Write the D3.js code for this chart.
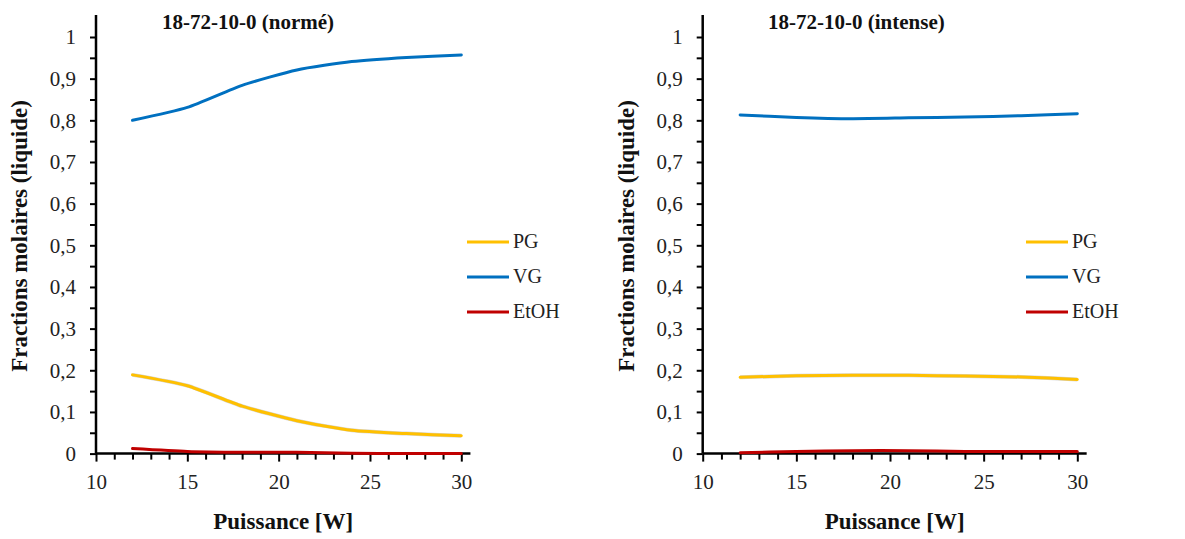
<!DOCTYPE html>
<html><head><meta charset="utf-8">
<script src="https://cdn.jsdelivr.net/npm/d3@7"></script>
<style>body{margin:0;background:#fff}</style>
</head><body><svg id="c" width="1185" height="539"></svg>
<script>
const xValues = [12, 15, 18, 21, 24, 27, 30];
const seriesNames = ["PG", "VG", "EtOH"];
const seriesColors = ["#FFC000", "#0070C0", "#C00000"];
const titles = ["18-72-10-0 (normé)", "18-72-10-0 (intense)"];
const normePG = [0.189, 0.163, 0.114, 0.079, 0.056, 0.048, 0.043];
const normeVG = [0.800, 0.831, 0.884, 0.921, 0.941, 0.951, 0.957];
const normeEtOH = [0.012, 0.005, 0.003, 0.003, 0.001, 0.0, 0.0];
const intensePG = [0.183, 0.187, 0.188, 0.188, 0.186, 0.184, 0.178];
const intenseVG = [0.813, 0.807, 0.804, 0.806, 0.808, 0.811, 0.816];
const intenseEtOH = [0.002, 0.005, 0.007, 0.007, 0.005, 0.005, 0.005];
const yTicks = [0, 0.1, 0.2, 0.3, 0.4, 0.5, 0.6, 0.7, 0.8, 0.9, 1];
const xTicks = [10, 15, 20, 25, 30];
const yTitle = "Fractions molaires (liquide)";
const xTitle = "Puissance [W]";

const FONT = "'Liberation Serif', 'Times New Roman', serif";
const panels = [
  {x0: 96, x1: 461.3, series: [normePG, normeVG, normeEtOH], titleX: 162, legX: 467},
  {x0: 702.7, x1: 1077.3, series: [intensePG, intenseVG, intenseEtOH], titleX: 768, legX: 1026}
];
const svg = d3.select("#c");
const yTop = 37, yZero = 453.6;

panels.forEach((p, i) => {
  const x = d3.scaleLinear().domain([10, 30]).range([p.x0, p.x1]);
  const y = d3.scaleLinear().domain([0, 1]).range([yZero, yTop]);
  const g = svg.append("g");
  const yAx = g.append("g").attr("transform", `translate(${p.x0},0)`)
    .call(d3.axisLeft(y).tickValues(yTicks).tickSize(6).tickPadding(14)
      .tickFormat(d => d3.format(".1f")(d).replace(".", ",").replace(/^1,0$/, "1").replace(/^0,0$/, "0")));
  yAx.attr("font-family", null);
  yAx.select(".domain").attr("d", `M0,${y(1.053)}V${y(0)}`).attr("stroke", "#000").attr("stroke-width", 2.5);
  yAx.selectAll(".tick line").attr("stroke", "#000").attr("stroke-width", 2);
  yAx.selectAll("text").style("font-size", "21px").style("font-family", FONT).attr("fill", "#222");
  g.append("g").attr("transform", `translate(${p.x0},0)`)
    .call(d3.axisLeft(y).tickValues(d3.range(0.05, 1.05, 0.1)).tickSize(6).tickFormat(""))
    .call(s => s.select(".domain").remove())
    .selectAll("line").attr("stroke", "#000").attr("stroke-width", 2);
  const xAx = g.append("g").attr("transform", `translate(0,${yZero})`)
    .call(d3.axisBottom(x).tickValues(xTicks).tickSize(8).tickPadding(12));
  xAx.attr("font-family", null);
  xAx.select(".domain").attr("d", `M${p.x0},0H${x(30.5)}`).attr("stroke", "#000").attr("stroke-width", 2.5);
  xAx.selectAll(".tick line").attr("stroke", "#000").attr("stroke-width", 2);
  xAx.selectAll("text").style("font-size", "21px").style("font-family", FONT).attr("fill", "#222");
  g.append("g").attr("transform", `translate(0,${yZero})`)
    .call(d3.axisBottom(x).tickValues(d3.range(11, 31, 1).filter(v => v % 5 !== 0)).tickSize(6).tickFormat(""))
    .call(s => s.select(".domain").remove())
    .selectAll("line").attr("stroke", "#000").attr("stroke-width", 2);
  const line = d3.line().x((d, k) => x(xValues[k])).y(d => y(d)).curve(d3.curveCardinal.tension(0.4));
  p.series.forEach((s, k) => {
    if (k === 0) g.append("path").attr("d", line(s)).attr("fill", "none").attr("stroke", "#bbb").attr("stroke-width", 4).attr("opacity", 0.6);
    g.append("path").attr("d", line(s)).attr("fill", "none").attr("stroke", seriesColors[k]).attr("stroke-width", 3).attr("stroke-linecap", "round");
  });
  g.append("text").attr("x", p.titleX).attr("y", 29).text(titles[i])
    .style("font-size", "21px").style("font-weight", "bold").style("font-family", FONT).attr("fill", "#111");
  g.append("text").attr("x", (p.x0 + x(30.5)) / 2).attr("y", 529).attr("text-anchor", "middle")
    .text(xTitle).style("font-size", "23px").style("font-weight", "bold").style("font-family", FONT).attr("fill", "#111");
  g.append("text").attr("transform", `translate(${p.x0 - 69},${236}) rotate(-90)`).attr("text-anchor", "middle")
    .text(yTitle).style("font-size", "23px").style("font-weight", "bold").style("font-family", FONT).attr("fill", "#111");
  const legY = [242, 277, 312];
  seriesNames.forEach((n, k) => {
    g.append("line").attr("x1", p.legX).attr("x2", p.legX + 42).attr("y1", legY[k]).attr("y2", legY[k])
      .attr("stroke", seriesColors[k]).attr("stroke-width", 3);
    g.append("text").attr("x", p.legX + 46).attr("y", legY[k] + 6).text(n)
      .style("font-size", "20px").style("font-family", FONT).attr("fill", "#222");
  });
});
</script></body></html>
